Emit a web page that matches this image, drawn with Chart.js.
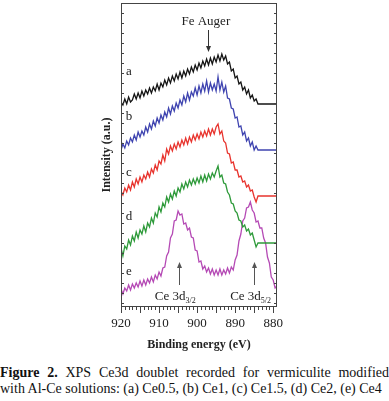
<!DOCTYPE html>
<html>
<head>
<meta charset="utf-8">
<script src="https://cdn.jsdelivr.net/npm/chart.js@4.4.0/dist/chart.umd.min.js"></script>
<style>
    body { margin: 0; background: #fff; width: 389px; height: 401px; overflow: hidden; position: relative; font-family: "Liberation Serif", serif; color: #111; }
    #wrap { position: absolute; left: 0; top: 0; width: 389px; height: 355px; }
    .cap { position: absolute; left: 0; font-size: 14px; line-height: 16px; }
    #cap1 { top: 365px; width: 389px; text-align: justify; text-align-last: justify; }
    #cap2 { top: 381px; white-space: nowrap; }
</style>
</head>
<body>
<div id="wrap"><canvas id="xpsChart" width="389" height="355"></canvas></div>
<div class="cap" id="cap1"><b>Figure 2.</b> XPS Ce3d doublet recorded for vermiculite modified</div>
<div class="cap" id="cap2">with Al-Ce solutions: (a) Ce0.5, (b) Ce1, (c) Ce1.5, (d) Ce2, (e) Ce4</div>
<script>
    // binding energy (eV), shared by all five spectra
    const energy = [920, 919.5, 919, 918.5, 918, 917.5, 917, 916.5, 916, 915.5,
        915, 914.5, 914, 913.5, 913, 912.5, 912, 911.5, 911, 910.5,
        910, 909.5, 909, 908.5, 908, 907.5, 907, 906.5, 906, 905.5,
        905, 904.5, 904, 903.5, 903, 902.5, 902, 901.5, 901, 900.5,
        900, 899.5, 899, 898.5, 898, 897.5, 897, 896.5, 896, 895.5,
        895, 894.5, 894, 893.5, 893, 892.5, 892, 891.5, 891, 890.5,
        890, 889.5, 889, 888.5, 888, 887.5, 887, 886.5, 886, 885.5,
        885, 884.5, 884, 883.5, 883, 882.5, 882, 881.5, 881, 880.5,
        880, 879.5, 879];

    // intensities (a.u., stacked offsets as in the figure)
    const ce05 = [201, 198, 204, 199, 206, 201, 203, 209, 204, 210,
        205, 212, 207, 213, 209, 215, 210, 216, 212, 219,
        213, 220, 216, 223, 218, 225, 220, 227, 222, 229,
        224, 231, 225, 232, 227, 234, 229, 236, 231, 238,
        233, 240, 235, 242, 237, 244, 238, 245, 239, 246,
        241, 248, 242, 249, 243, 247, 239, 241, 232, 234,
        225, 227, 219, 221, 213, 216, 209, 213, 205, 208,
        202, 204, 199, 199, 199, 199, 199, 199, 199, 199,
        199, 199, 199];
    const ce1 = [153, 159, 155, 162, 158, 165, 161, 168, 163, 171,
        166, 172, 168, 176, 171, 179, 174, 182, 177, 185,
        180, 188, 183, 191, 186, 195, 189, 197, 192, 200,
        195, 203, 198, 207, 201, 210, 203, 211, 207, 215,
        208, 217, 210, 219, 212, 222, 211, 220, 213, 219,
        212, 226, 213, 221, 211, 217, 205, 204, 195, 194,
        185, 186, 176, 177, 168, 171, 162, 165, 157, 161,
        153, 157, 153, 153, 153, 153, 153, 153, 153, 153,
        153, 153, 153];
    const ce15 = [112, 108, 115, 111, 118, 113, 121, 116, 124, 119,
        126, 121, 128, 124, 131, 126, 134, 130, 138, 133,
        142, 139, 148, 142, 154, 149, 157, 152, 159, 154,
        161, 156, 163, 158, 165, 159, 166, 161, 168, 163,
        169, 164, 171, 166, 172, 167, 174, 168, 174, 169,
        176, 179, 169, 172, 162, 160, 150, 149, 140, 141,
        133, 133, 126, 127, 121, 122, 116, 118, 112, 113,
        106, 101, 107, 107, 107, 107, 107, 107, 107, 107,
        107, 107, 107];
    const ce2 = [55, 47, 57, 54, 63, 58, 67, 62, 71, 65,
        73, 69, 77, 71, 80, 76, 85, 80, 90, 86,
        96, 91, 100, 96, 106, 101, 109, 104, 112, 107,
        115, 111, 119, 114, 121, 116, 123, 118, 124, 119,
        125, 120, 127, 121, 128, 122, 129, 124, 130, 126,
        132, 137, 126, 128, 120, 119, 111, 108, 100, 99,
        92, 90, 83, 82, 76, 78, 72, 74, 68, 70,
        63, 56, 60, 60, 60, 60, 60, 60, 60, 60,
        60, 60, 60];
    const ce4 = [14, 9, 15, 12, 18, 13, 19, 15, 20, 16,
        22, 17, 23, 18, 24, 20, 26, 21, 28, 24,
        31, 27, 35, 36, 47, 51, 65, 69, 82, 83,
        92, 88, 89, 79, 80, 73, 75, 66, 65, 53,
        52, 41, 42, 34, 37, 31, 35, 29, 34, 28,
        33, 28, 34, 28, 33, 29, 35, 30, 36, 33,
        43, 48, 62, 69, 82, 85, 95, 96, 101, 93,
        90, 81, 82, 75, 75, 65, 60, 46, 40, 26,
        23, 15, 17];

    const xLabels = [920, 910, 900, 890, 880];
    const curveLetters = ['a', 'b', 'c', 'd', 'e'];

    function toPoints(values) {
        return energy.map(function (e, i) {
            return { x: e, y: values[i] };
        });
    }

    const serif = '"Liberation Serif", "Times New Roman", serif';

    // frame, tick marks and the hand annotations of the figure
    const decor = {
        id: 'decor',
        afterDraw(chart) {
            const ctx = chart.ctx;
            const a = chart.chartArea;
            const x = chart.scales.x;
            const y = chart.scales.y;
            ctx.save();
            ctx.strokeStyle = '#444';
            ctx.lineWidth = 1;
            ctx.strokeRect(a.left + 0.5, a.top + 0.5, a.right - a.left - 1, a.bottom - a.top - 1);

            ctx.beginPath();
            for (let v = 880; v <= 920; v++) {
                const px = Math.round(x.getPixelForValue(v)) + 0.5;
                const len = v % 5 === 0 ? 6 : 3;
                ctx.moveTo(px, a.bottom);
                ctx.lineTo(px, a.bottom + len);
            }
            for (let v = 0; v <= 300; v += 10) {
                const py = Math.round(y.getPixelForValue(v)) + 0.5;
                ctx.moveTo(a.left, py);
                ctx.lineTo(a.left + 3, py);
                ctx.moveTo(a.right, py);
                ctx.lineTo(a.right - 3, py);
            }
            ctx.stroke();

            // curve letters
            ctx.fillStyle = '#222';
            ctx.font = '13px ' + serif;
            ctx.textAlign = 'center';
            ctx.textBaseline = 'middle';
            const letterLevels = [231, 186, 130, 86, 31];
            curveLetters.forEach(function (l, i) {
                ctx.fillText(l, x.getPixelForValue(917.9), y.getPixelForValue(letterLevels[i]));
            });

            function arrow(e, from, to, color) {
                const px = Math.round(x.getPixelForValue(e)) + 0.5;
                const y0 = y.getPixelForValue(from);
                const y1 = y.getPixelForValue(to);
                const dir = y1 > y0 ? 1 : -1;
                ctx.strokeStyle = color;
                ctx.fillStyle = color;
                ctx.beginPath();
                ctx.moveTo(px, y0);
                ctx.lineTo(px, y1 - dir * 4);
                ctx.stroke();
                ctx.beginPath();
                ctx.moveTo(px, y1);
                ctx.lineTo(px - 2.5, y1 - dir * 6);
                ctx.lineTo(px + 2.5, y1 - dir * 6);
                ctx.closePath();
                ctx.fill();
            }

            // Fe Auger
            ctx.fillStyle = '#222';
            ctx.fillText('Fe Auger', x.getPixelForValue(897.7), y.getPixelForValue(281));
            arrow(897.1, 273, 251, '#333');

            // Ce 3d doublet
            function ceLabel(e, sub) {
                const px = x.getPixelForValue(e);
                ctx.fillStyle = '#222';
                ctx.textAlign = 'left';
                ctx.textBaseline = 'alphabetic';
                ctx.font = '13px ' + serif;
                const main = 'Ce 3d';
                const left = px - 24;
                const base = y.getPixelForValue(3);
                ctx.fillText(main, left, base);
                const w = ctx.measureText(main).width;
                ctx.font = '8px ' + serif;
                ctx.fillText(sub, left + w, base + 3);
                arrow(e, 18, 41, '#555');
            }
            ceLabel(904.8, '3/2');
            ceLabel(885.0, '5/2');
            ctx.restore();
        }
    };

    const ctx = document.getElementById('xpsChart').getContext('2d');
    new Chart(ctx, {
        type: 'line',
        data: {
            datasets: [
                { label: 'Ce0.5', data: toPoints(ce05), borderColor: '#151515' },
                { label: 'Ce1', data: toPoints(ce1), borderColor: '#3f44b0' },
                { label: 'Ce1.5', data: toPoints(ce15), borderColor: '#e8342e' },
                { label: 'Ce2', data: toPoints(ce2), borderColor: '#2e9a3a' },
                { label: 'Ce4', data: toPoints(ce4), borderColor: '#b54ab5' }
            ]
        },
        options: {
            responsive: false,
            animation: false,
            devicePixelRatio: 1,
            layout: { padding: { top: 3, right: 112, left: 0, bottom: 0 } },
            elements: {
                line: { borderWidth: 1.3, tension: 0, fill: false },
                point: { radius: 0 }
            },
            plugins: {
                legend: { display: false },
                tooltip: { enabled: false }
            },
            scales: {
                x: {
                    type: 'linear',
                    min: 879,
                    max: 920,
                    reverse: true,
                    grid: { display: false, drawTicks: false },
                    border: { display: false },
                    afterBuildTicks: function (scale) {
                        scale.ticks = xLabels.map(function (v) { return { value: v }; });
                    },
                    ticks: {
                        padding: 9,
                        color: '#222',
                        maxRotation: 0,
                        font: { family: serif, size: 13 }
                    },
                    title: {
                        display: true,
                        text: 'Binding energy (eV)',
                        color: '#222',
                        font: { family: serif, size: 12, weight: 'bold' },
                        padding: { top: 0, bottom: 3 }
                    },
                    afterFit: function (scale) { scale.height = 48; }
                },
                y: {
                    type: 'linear',
                    min: -4,
                    max: 300,
                    grid: { display: false, drawTicks: false },
                    border: { display: false },
                    ticks: { display: false },
                    title: {
                        display: true,
                        text: 'Intensity (a.u.)',
                        color: '#222',
                        font: { family: serif, size: 12, weight: 'bold' },
                        padding: { top: 100, bottom: 0 }
                    },
                    afterFit: function (scale) { scale.width = 121; }
                }
            }
        },
        plugins: [decor]
    });
</script>
</body>
</html>
